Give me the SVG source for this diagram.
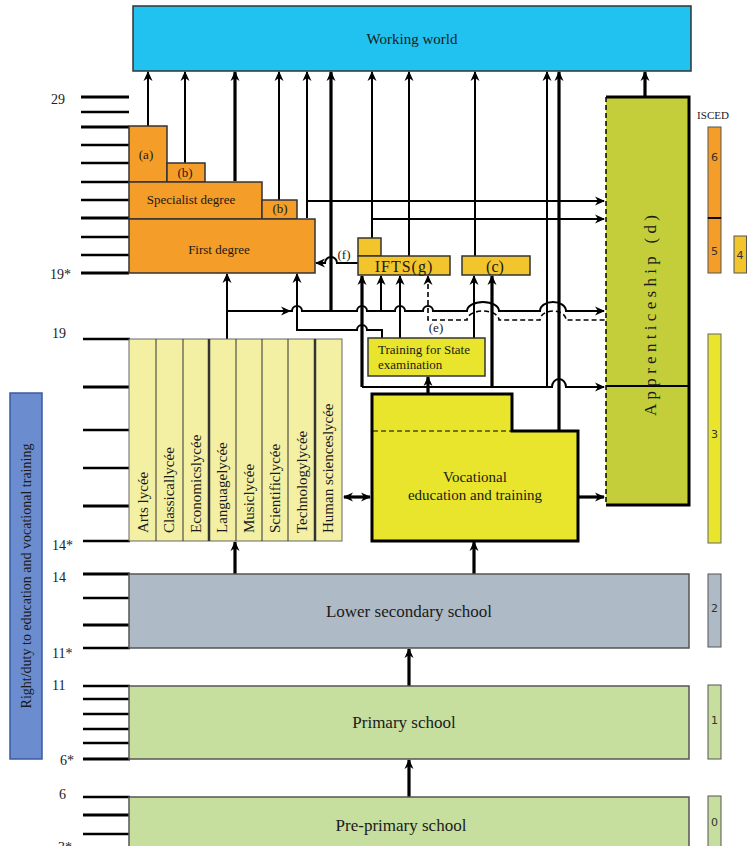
<svg xmlns="http://www.w3.org/2000/svg" width="747" height="846" viewBox="0 0 747 846">
<style>
text{font-family:"Liberation Serif","Times New Roman",serif;fill:#1a1a1a}
.box{stroke:#333;stroke-width:1.5}
.c{fill:none;stroke:#000;stroke-width:2}
.t{fill:none;stroke:#000;stroke-width:3.2}
.d{fill:none;stroke:#000;stroke-width:1.6;stroke-dasharray:5,3}
.tick{stroke:#000;stroke-width:2.5}
.tk{stroke:#000;stroke-width:3.2}
.age{font-size:14px;fill:#222}
.lyc{font-size:15px}
.isc{font-family:"DejaVu Sans",sans-serif;font-size:11px;fill:#333}
</style>
<defs>
<marker id="ah" viewBox="0 0 10 10" refX="9" refY="5" markerWidth="10" markerHeight="10" markerUnits="userSpaceOnUse" orient="auto-start-reverse">
<path d="M0,0.5 L10,5 L0,9.5 L3,5 z" fill="#000"/>
</marker>
</defs>
<rect width="747" height="846" fill="#fff"/>

<g id="age-scale">
<g class="tick">
<line x1="81" y1="97" x2="129" y2="97" class="tk"/><line x1="81" y1="112" x2="129" y2="112"/><line x1="81" y1="127" x2="129" y2="127" class="tk"/><line x1="81" y1="145" x2="129" y2="145"/><line x1="81" y1="163" x2="129" y2="163"/><line x1="81" y1="182" x2="129" y2="182"/><line x1="81" y1="200" x2="129" y2="200"/><line x1="81" y1="218" x2="129" y2="218" class="tk"/><line x1="81" y1="237" x2="129" y2="237"/><line x1="81" y1="255" x2="129" y2="255"/><line x1="81" y1="273" x2="129" y2="273" class="tk"/>
<line x1="83" y1="339" x2="130" y2="339"/><line x1="83" y1="387" x2="130" y2="387" class="tk"/><line x1="83" y1="430" x2="130" y2="430"/><line x1="83" y1="468" x2="130" y2="468"/><line x1="83" y1="506" x2="130" y2="506" class="tk"/><line x1="83" y1="541" x2="130" y2="541"/>
<line x1="83" y1="574" x2="130" y2="574" class="tk"/><line x1="83" y1="598" x2="130" y2="598"/><line x1="83" y1="625" x2="130" y2="625" class="tk"/><line x1="83" y1="648" x2="130" y2="648"/>
<line x1="83" y1="686" x2="130" y2="686"/><line x1="83" y1="699" x2="130" y2="699"/><line x1="83" y1="714" x2="130" y2="714"/><line x1="83" y1="729" x2="130" y2="729"/><line x1="83" y1="743" x2="130" y2="743"/><line x1="83" y1="759" x2="130" y2="759" class="tk"/>
<line x1="83" y1="797" x2="130" y2="797"/><line x1="83" y1="815" x2="130" y2="815" class="tk"/><line x1="83" y1="834" x2="130" y2="834"/>
</g>
<text class="age" x="51" y="104">29</text>
<text class="age" x="50" y="279">19*</text>
<text class="age" x="52" y="338">19</text>
<text class="age" x="52" y="550">14*</text>
<text class="age" x="52" y="582">14</text>
<text class="age" x="52" y="658">11*</text>
<text class="age" x="52" y="690">11</text>
<text class="age" x="60" y="765">6*</text>
<text class="age" x="59" y="799">6</text>
<text class="age" x="58" y="852">3*</text>
</g>

<g id="right-duty">
<rect x="10" y="393" width="32" height="366" fill="#6b8dcf" stroke="#3a5aa0" stroke-width="1.5"/>
<text transform="translate(31,576) rotate(-90)" text-anchor="middle" font-size="14">Right/duty to education and vocational training</text>
</g>

<g id="working-world">
<rect x="133" y="6" width="558" height="65" fill="#21c2ef" stroke="#333" stroke-width="1.5"/>
<text x="412" y="44" text-anchor="middle" font-size="15">Working world</text>
</g>

<g id="connectors">
<path class="c" marker-end="url(#ah)" d="M148,126 V72"/>
<path class="c" marker-end="url(#ah)" d="M185,163 V72"/>
<path class="t" marker-end="url(#ah)" d="M235,181 V72"/>
<path class="c" marker-end="url(#ah)" d="M279,200 V72"/>
<path class="c" marker-end="url(#ah)" d="M307,218 V72"/>
<path class="t" marker-end="url(#ah)" d="M331,311 V72"/>
<path class="c" marker-end="url(#ah)" d="M372,238 V72"/>
<path class="c" marker-end="url(#ah)" d="M409,256 V72"/>
<path class="c" marker-end="url(#ah)" d="M475,256 V72"/>
<path class="c" marker-end="url(#ah)" d="M547,387 V72"/>
<path class="t" marker-end="url(#ah)" d="M559,431 V72"/>
<path class="t" marker-end="url(#ah)" d="M645,97 V72"/>

<path class="c" marker-end="url(#ah)" d="M307,201 H604"/>
<path class="c" marker-end="url(#ah)" d="M372,219 H604"/>

<path class="c" marker-end="url(#ah)" d="M227,339 V274"/>
<path class="c" marker-end="url(#ah)" d="M227,311 H290"/>
<path class="c" stroke-width="2.4" marker-end="url(#ah)" d="M290,311 H292 a5,5 0 0 1 10,0 H357 a5,5 0 0 1 10,0 H395 a5,5 0 0 1 10,0 H423 a5,5 0 0 1 10,0 H467 a16,9 0 0 1 32,0 H540 a13,9 0 0 1 26,0 H604"/>
<path class="d" marker-start="url(#ah)" d="M428,276 V320 H467 a16,9 0 0 1 32,0 H540 a13,9 0 0 1 26,0 H606"/>
<path class="c" marker-end="url(#ah)" d="M382,338 V330 H367 a5,5 0 0 0 -10,0 H297 V274"/>
<path class="t" marker-start="url(#ah)" d="M362,276 V387"/>
<path class="c" marker-end="url(#ah)" d="M362,387 H552 a7,8 0 0 1 14,0 H604"/>
<path class="c" marker-end="url(#ah)" d="M358,263 H337 a6,6 0 0 0 -12,0 H316"/>

<path class="c" marker-end="url(#ah)" d="M381,311 V276"/>
<path class="c" marker-end="url(#ah)" d="M400,338 V276"/>
<path class="c" marker-end="url(#ah)" d="M474,338 V276"/>
<path class="t" marker-end="url(#ah)" d="M492,387 V276"/>

<path class="t" marker-end="url(#ah)" d="M428,394 V377"/>
<path class="t" marker-end="url(#ah)" d="M578,497 H604"/>
<path class="t" marker-start="url(#ah)" marker-end="url(#ah)" d="M344,497 H370"/>
<path class="t" marker-end="url(#ah)" d="M235,574 V542"/>
<path class="t" marker-end="url(#ah)" d="M474,574 V542"/>
<path class="t" marker-end="url(#ah)" d="M409,686 V649"/>
<path class="t" marker-end="url(#ah)" d="M409,797 V760"/>
</g>

<g id="higher-education">
<rect class="box" x="129" y="126" width="38" height="56" fill="#f49d28"/>
<rect class="box" x="167" y="163" width="38" height="19" fill="#f49d28"/>
<rect class="box" x="129" y="182" width="133" height="37" fill="#f49d28"/>
<rect class="box" x="262" y="200" width="35" height="19" fill="#f49d28"/>
<rect class="box" x="129" y="219" width="186" height="54" fill="#f49d28"/>
<text x="146" y="159" text-anchor="middle" font-size="13">(a)</text>
<text x="185" y="177" text-anchor="middle" font-size="13">(b)</text>
<text x="191" y="204" text-anchor="middle" font-size="13">Specialist degree</text>
<text x="280" y="213" text-anchor="middle" font-size="13">(b)</text>
<text x="219" y="254" text-anchor="middle" font-size="13">First degree</text>
</g>

<g id="ifts">
<rect class="box" x="358" y="238" width="23" height="18" fill="#f2c52c"/>
<rect class="box" x="358" y="256" width="92" height="19" fill="#f2c52c"/>
<text x="404" y="272" text-anchor="middle" font-size="16" letter-spacing="1">IFTS(g)</text>
<text x="344" y="259" text-anchor="middle" font-size="13">(f)</text>
<text x="436" y="332" text-anchor="middle" font-size="13">(e)</text>
</g>

<g id="c-box">
<rect class="box" x="462" y="256" width="68" height="19" fill="#f2c52c"/>
<text x="495" y="272" text-anchor="middle" font-size="16">(c)</text>
</g>

<g id="training-state">
<rect class="box" x="368" y="338" width="117" height="38" fill="#e8e52c"/>
<text x="378" y="354" font-size="13">Training for State</text>
<text x="378" y="369" font-size="13">examination</text>
</g>

<g id="lycees">
<rect x="129" y="339" width="213" height="202" fill="#f3f0a4" stroke="#666" stroke-width="1"/>
<g stroke="#333" stroke-width="1">
<line x1="156" y1="339" x2="156" y2="541"/><line x1="183" y1="339" x2="183" y2="541"/><line x1="236" y1="339" x2="236" y2="541"/><line x1="262" y1="339" x2="262" y2="541"/><line x1="288" y1="339" x2="288" y2="541"/>
<line x1="209" y1="339" x2="209" y2="541" stroke-width="2.5"/><line x1="315" y1="339" x2="315" y2="541" stroke-width="2.5"/>
</g>
<text class="lyc" transform="translate(148,533) rotate(-90)">Arts lycée</text>
<text class="lyc" transform="translate(174,533) rotate(-90)">Classicallycée</text>
<text class="lyc" transform="translate(201,533) rotate(-90)">Economicslycée</text>
<text class="lyc" transform="translate(227,533) rotate(-90)">Languagelycée</text>
<text class="lyc" transform="translate(254,533) rotate(-90)">Musiclycée</text>
<text class="lyc" transform="translate(280,533) rotate(-90)">Scientificlycée</text>
<text class="lyc" transform="translate(307,533) rotate(-90)">Technologylycée</text>
<text class="lyc" transform="translate(333,533) rotate(-90)">Human scienceslycée</text>
</g>

<g id="vocational">
<path d="M372,394 H512 V431 H578 V541 H372 Z" fill="#e8e52c" stroke="#000" stroke-width="3"/>
<line x1="373" y1="431" x2="512" y2="431" stroke="#000" stroke-width="1.2" stroke-dasharray="5,3"/>
<text x="475" y="482" text-anchor="middle" font-size="15">Vocational</text>
<text x="475" y="500" text-anchor="middle" font-size="15">education and training</text>
</g>

<g id="apprenticeship">
<rect x="606" y="97" width="83" height="408" fill="#c3ce3a"/>
<path d="M606,97 H689 V505 H606" fill="none" stroke="#000" stroke-width="3"/>
<line x1="606" y1="97" x2="606" y2="505" stroke="#000" stroke-width="1.5" stroke-dasharray="5,3"/>
<line x1="606" y1="386" x2="689" y2="386" stroke="#000" stroke-width="2"/>
<text transform="translate(656,416) rotate(-90)" font-family="'Liberation Mono','Courier New',monospace" font-size="17" textLength="201" lengthAdjust="spacing">Apprenticeship (d)</text>
</g>

<g id="lower-secondary">
<rect x="129" y="574" width="560" height="74" fill="#aebac5" stroke="#555" stroke-width="1.5"/>
<text x="409" y="617" text-anchor="middle" font-size="17">Lower secondary school</text>
</g>

<g id="primary">
<rect x="129" y="686" width="560" height="73" fill="#c6de9e" stroke="#555" stroke-width="1.5"/>
<text x="404" y="728" text-anchor="middle" font-size="17">Primary school</text>
</g>

<g id="pre-primary">
<rect x="129" y="797" width="560" height="60" fill="#c6de9e" stroke="#555" stroke-width="1.5"/>
<text x="401" y="831" text-anchor="middle" font-size="17">Pre-primary school</text>
</g>

<g id="isced">
<text x="713" y="119" text-anchor="middle" font-size="11">ISCED</text>
<rect x="708" y="127" width="13" height="91" fill="#f49d28" stroke="#555" stroke-width="1"/>
<rect x="708" y="218" width="13" height="55" fill="#f49d28" stroke="#555" stroke-width="1"/>
<line x1="708" y1="218" x2="721" y2="218" stroke="#000" stroke-width="1.8"/>
<rect x="734" y="236" width="12.5" height="37" fill="#f2c52c" stroke="#555" stroke-width="1"/>
<rect x="708" y="334" width="13" height="209" fill="#e8e52c" stroke="#666" stroke-width="1"/>
<rect x="708" y="574" width="13" height="73" fill="#aebac5" stroke="#555" stroke-width="1"/>
<rect x="708" y="685" width="13" height="74" fill="#c6de9e" stroke="#555" stroke-width="1"/>
<rect x="708" y="796" width="13" height="60" fill="#c6de9e" stroke="#555" stroke-width="1"/>
<text class="isc" x="714.5" y="161" text-anchor="middle">6</text>
<text class="isc" x="714.5" y="255" text-anchor="middle">5</text>
<text class="isc" x="740" y="259" text-anchor="middle">4</text>
<text class="isc" x="714.5" y="438" text-anchor="middle">3</text>
<text class="isc" x="714.5" y="612" text-anchor="middle">2</text>
<text class="isc" x="714.5" y="724" text-anchor="middle">1</text>
<text class="isc" x="714.5" y="826" text-anchor="middle">0</text>
</g>
</svg>
